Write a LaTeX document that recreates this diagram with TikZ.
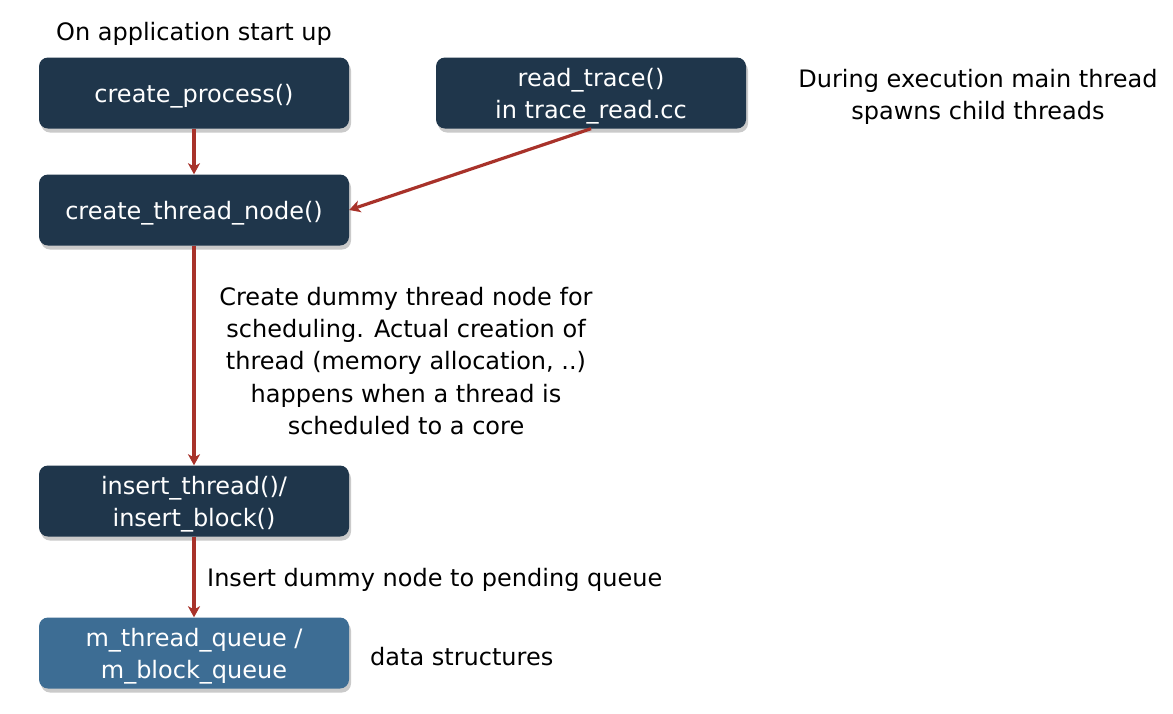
\documentclass[tikz,border=0pt]{standalone}
\usepackage{fontspec}
\setmainfont{DejaVu Sans}
\usetikzlibrary{arrows.meta,shadows}
\definecolor{boxdark}{HTML}{1F364B}
\definecolor{boxlight}{HTML}{3D6D94}
\definecolor{arrowred}{HTML}{A8322A}
\begin{document}
\begin{tikzpicture}[x=1pt,y=-1pt,
  fbox/.style={rectangle,rounded corners=9pt,minimum width=310pt,minimum height=71pt,
    inner sep=0pt,
    drop shadow={shadow xshift=2pt,shadow yshift=-4pt,opacity=0.35,fill=black!60},
    label={[text=white,align=center,inner sep=0pt,yshift=-3pt]center:#1}},
  darkbox/.style={fbox={#1},fill=boxdark},
  lightbox/.style={fbox={#1},fill=boxlight},
  txt/.style={align=center,inner sep=0pt,text=black},
  conn/.style={draw=arrowred,line width=3.2pt,-{Stealth[length=11pt,width=12pt,inset=3pt]}},
  every node/.style={font=\fontsize{24}{32.3}\selectfont}]
\useasboundingbox (0,0) rectangle (1173,713);
\node[darkbox={create\_process()}] (cp) at (194,93) {};
\node[darkbox={create\_thread\_node()}] (ctn) at (194,210) {};
\node[darkbox={read\_trace()\\in trace\_read.cc}] (rt) at (591,93) {};
\node[darkbox={insert\_thread()/\\insert\_block()}] (it) at (194,501) {};
\node[lightbox={m\_thread\_queue /\\m\_block\_queue}] (q) at (194,653) {};
\node[txt] (start) at (194,34) {On application start up};
\node[txt] (during) at (978,97) {During execution main thread\\spawns child threads};
\node[txt] (dummy) at (406,361) {Create dummy thread node for\\scheduling. Actual creation of\\thread (memory allocation, ..)\\happens when a thread is\\scheduled to a core};
\node[txt,anchor=west] (ins) at (207,580) {Insert dummy node to pending queue};
\node[txt,anchor=west] (ds) at (370,657) {data structures};
\draw[conn] (cp) -- (ctn);
\draw[conn] (rt.south) -- (ctn.east);
\draw[conn] (ctn) -- (it);
\draw[conn] (it) -- (q);
\end{tikzpicture}
\end{document}
